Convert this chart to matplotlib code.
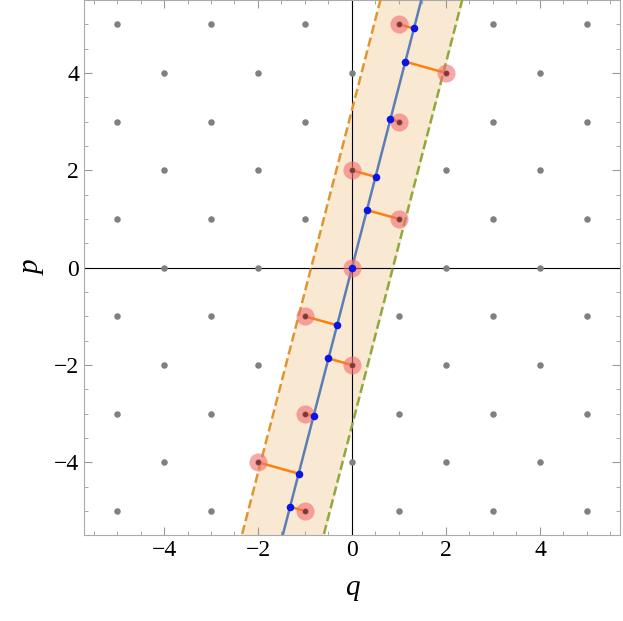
import numpy as np
import matplotlib.pyplot as plt

plt.rcParams['font.family'] = ['Liberation Serif', 'DejaVu Serif']

slope = 3.73          # p = slope * q
half_width = 0.87     # band half-width along q
lattice_range = range(-5, 6)
inside_q = [1, 2, 1, 0, 1, 0, -1, 0, -1, -2, -1]
inside_p = [5, 4, 3, 2, 1, 0, -1, -2, -3, -4, -5]

fig = plt.figure(figsize=(6.23, 6.21), dpi=100)
ax = fig.add_axes([0.135, 0.138, 0.86, 0.862])
ax.set_xlim(-5.7, 5.7)
ax.set_ylim(-5.5, 5.5)

pp = np.array([-6.0, 6.0])
ax.fill_betweenx(pp, pp / slope - half_width, pp / slope + half_width,
                 color='#f9e8d2', zorder=1)
ax.plot(pp / slope - half_width, pp, ls='--', color='#e0962e', lw=1.8, zorder=3)
ax.plot(pp / slope + half_width, pp, ls='--', color='#8faa3c', lw=1.8, zorder=3)
ax.plot(pp / slope, pp, color='#5b7fb5', lw=1.8, zorder=3)

ax.axhline(0, color='black', lw=0.8, zorder=2)
ax.axvline(0, color='black', lw=0.8, zorder=2)

lq, lp = [], []
for q in lattice_range:
    for p in lattice_range:
        if (q + p) % 2 == 0:
            lq.append(q)
            lp.append(p)
ax.scatter(lq, lp, s=22, color='#808080', zorder=4, lw=0)

iq = np.array(inside_q, float)
ip = np.array(inside_p, float)
t = (iq + ip * slope) / (1 + slope ** 2)
bq, bp = t, t * slope
for a, b, c, d in zip(iq, ip, bq, bp):
    ax.plot([a, c], [b, d], color='#ff7f0e', lw=1.8, zorder=5)
ax.scatter(iq, ip, s=170, color='#f26d6d', alpha=0.6, lw=0, zorder=6)
ax.scatter(iq, ip, s=14, color='#7a3a3a', lw=0, zorder=7)
ax.scatter(bq, bp, s=30, color='#0a14e6', lw=0, zorder=8)

ax.set_xticks([-4, -2, 0, 2, 4])
ax.set_yticks([-4, -2, 0, 2, 4])
ax.set_xticklabels(['\u22124', '\u22122', '0', '2', '4'])
ax.set_yticklabels(['\u22124', '\u22122', '0', '2', '4'])
ax.set_xticks(np.arange(-5.5, 5.6, 0.5), minor=True)
ax.set_yticks(np.arange(-5.5, 5.6, 0.5), minor=True)
ax.tick_params(which='both', direction='in', top=True, right=True,
               labelsize=17, color='#999999')
ax.tick_params(which='major', length=6)
ax.tick_params(which='minor', length=3)
for s in ax.spines.values():
    s.set_color('#aaaaaa')
ax.set_xlabel('q', fontsize=21, fontstyle='italic', labelpad=10)
ax.set_ylabel('p', fontsize=21, fontstyle='italic', labelpad=6)

fig.savefig('out.png')
